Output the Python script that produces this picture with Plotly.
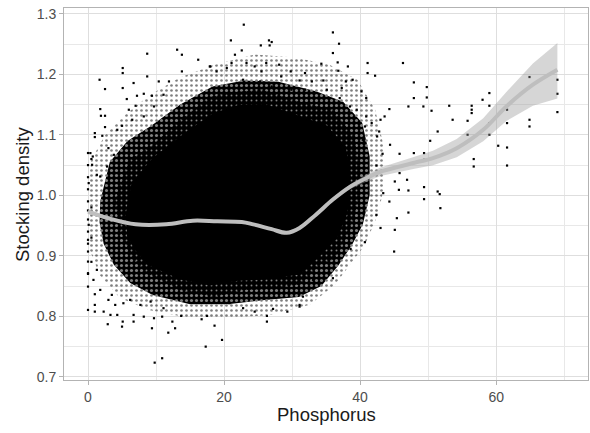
import plotly.graph_objects as go

# ---- individual observations (phosphorus, stocking density) in the sparse outer fringe
pt_x = [
    8.7, 13.1, 13.8, 16.2, 5.1, 5.1, 1.7, 2.5, 5.1, 6.7, 8.7, 10.4, 11.9, 13.8, 18.0,
    5.7, 7.2, 8.2, 9.4, 11.1, 1.8, 1.9, 2.5, 2.5, 1.0, 1.0, 2.1, 0.35, 0.7, 0.6, 0.1,
    1.3, 3.0, 4.3, 5.0, 6.0, 7.0, 6.5, 8.2, 9.7, 3.8, 2.8, 1.8,
    22.9, 21.0, 22.6, 25.4, 26.6, 27.0, 26.7, 36.0, 36.9, 36.0, 36.7, 36.8, 34.3, 38.2,
    41.1, 21.6, 21.1, 23.3, 24.5, 26.2, 28.1, 29.8, 31.9, 18.9, 17.9, 20.4, 25.5, 28.4,
    31.1, 32.9, 34.6, 37.9, 38.9, 40.2, 40.9, 39.5, 40.7, 40.4, 29.9, 31.9, 35.1, 37.3,
    37.0, 38.5, 22.8, 25.3, 27.0,
    41.1, 42.2, 46.3, 47.9, 49.8, 47.9, 49.8, 47.1, 49.3, 50.5, 53.1, 56.4, 56.4, 56.4,
    58.0, 59.0, 59.0, 53.6, 55.8, 55.8, 59.0, 59.0, 61.6, 61.6, 64.9, 64.9, 64.9, 60.3,
    61.6, 61.6, 56.7, 56.7, 69.0, 69.0, 69.0, 50.3, 51.4, 47.9, 49.4, 49.4, 45.8, 44.4,
    43.3, 42.4, 45.8, 45.1, 46.9, 45.7, 47.1, 49.4, 49.4, 51.4, 51.7, 51.8, 47.1, 45.4,
    45.1, 44.3, 43.4, 42.5, 43.0, 43.6, 44.3, 41.7, 40.9, 42.8,
    45.0, 43.0, 42.4, 40.7, 38.6, 36.0, 34.6, 33.1, 31.6, 31.1,
    0.0, 1.0, 1.0, 1.0, 2.3, 2.9, 3.3, 5.0, 5.1, 6.7, 9.4, 9.8, 10.9, 11.8, 12.8, 12.4,
    13.7, 16.7, 17.3, 17.5, 4.3, 4.0, 6.7, 8.2, 9.7, 10.9, 0.0, 0.0, 0.0, 0.0, 0.0, 0.1,
    0.8, 1.3, 1.8, 3.0, 5.2, 3.5, 6.2, 7.7, 9.2, 11.1,
    18.6, 19.7, 26.3, 26.3, 29.3, 31.1, 24.5, 22.8, 20.8, 27.2,
    0.0, 0.0, 0.0, 0.0, 0.0, 0.0, 0.0, 0.0, 0.0, 0.0, 0.5, 0.5, 0.5, 0.5,
]
pt_y = [
    1.2343, 1.2409, 1.2326, 1.2243, 1.2106, 1.2023, 1.1912, 1.1758, 1.1775, 1.1858,
    1.1967, 1.1884, 1.1884, 1.2050, 1.2132, 1.1593, 1.1647, 1.1680, 1.1647, 1.1664,
    1.1427, 1.1316, 1.1316, 1.1129, 1.1030, 1.0964, 1.0985, 1.0699, 1.0642, 1.0505,
    1.0202, 1.0339, 1.0781, 1.1084, 1.1150, 1.1416, 1.1482, 1.1250, 1.1305, 1.1470,
    1.0670, 1.0477, 1.0311,
    1.2823, 1.2563, 1.2397, 1.2480, 1.2563, 1.2536, 1.2480, 1.2695, 1.2508, 1.2354,
    1.2199, 1.2061, 1.2177, 1.2132, 1.2189, 1.2326, 1.2189, 1.2189, 1.2132, 1.2189,
    1.2161, 1.2050, 1.2023, 1.2050, 1.2132, 1.2106, 1.2050, 1.1967, 1.1900, 1.1884,
    1.1900, 1.1884, 1.1912, 1.1719, 1.1609, 1.1416, 1.1139, 1.0919, 1.1747, 1.1747,
    1.1747, 1.1775, 1.1609, 1.1470, 1.1912, 1.1884, 1.1801,
    1.2023, 1.1979, 1.2189, 1.1868, 1.1791, 1.1609, 1.1619, 1.1470, 1.1470, 1.1399,
    1.1482, 1.1482, 1.1416, 1.1361, 1.1581, 1.1692, 1.1482, 1.1250, 1.1233, 1.1002,
    1.1002, 1.1195, 1.1416, 1.1195, 1.1957, 1.1250, 1.1139, 1.0820, 1.0791, 1.0493,
    1.0600, 1.0477, 1.1912, 1.1680, 1.1377, 1.0902, 1.1056, 1.0699, 1.0699, 1.0588,
    1.0687, 1.0836, 1.0687, 1.0493, 1.0368, 1.0229, 1.0257, 1.0091, 1.0080, 1.0136,
    0.9937, 1.0063, 1.0020, 0.9788, 0.9715, 0.9622, 0.9429, 0.9897, 1.0036, 1.0974,
    1.1250, 1.1305, 1.1427, 1.1195, 1.1305, 1.1056,
    0.9070, 0.9460, 0.9677, 0.9225, 0.9114, 0.8629, 0.8712, 0.8601, 0.8324, 0.8187,
    0.8104, 0.8076, 0.8187, 0.8364, 0.8076, 0.7868, 0.8022, 0.7828, 0.7911, 0.7911,
    0.7801, 0.7232, 0.7305, 0.7728, 0.7801, 0.7911, 0.8005, 0.7950, 0.7497, 0.8005,
    0.8022, 0.8187, 0.8022, 0.7993, 0.7967, 0.7993, 0.8490, 0.8712, 0.8904, 0.9070,
    0.9264, 0.9512, 0.8601, 0.8767, 0.8435, 0.8270, 0.8215, 0.8353, 0.8270, 0.8187,
    0.8242, 0.8133,
    0.7844, 0.7608, 0.8005, 0.7911, 0.8076, 0.8159, 0.8076, 0.8133, 0.8215, 0.8121,
    1.0700, 1.0500, 1.0300, 1.0100, 0.9900, 0.9750, 0.9600, 0.9400, 0.9200, 0.8700,
    1.0600, 0.9800, 0.9300, 0.8900,
]

# ---- outlines of the point cloud, from the sparse outer halo inwards to the saturated core
halo_x = [0, 0.5, 2.5, 5.4, 9.1, 13.5, 18.6, 24.5, 30.4, 35.5, 39.6, 42.2, 43.6, 43.6,
          42.6, 40.7, 38.5, 36.3, 32.6, 26.7, 20.8, 15.0, 9.1, 4.7, 1.7, 0.25, 0]
halo_y = [1.017, 1.059, 1.100, 1.133, 1.166, 1.195, 1.216, 1.233, 1.228, 1.216, 1.191,
          1.142, 1.075, 1.017, 0.968, 0.918, 0.885, 0.852, 0.819, 0.802, 0.797, 0.797,
          0.810, 0.830, 0.868, 0.910, 0.960]

ring_x = [1.8, 3.2, 5.8, 9.3, 13.5, 18.3, 23.0, 28.0, 33.5, 37.5, 40.3, 41.4, 41.4, 40.4,
          38.8, 36.8, 34.3, 31.0, 26.0, 20.5, 15.0, 9.5, 6.2, 3.8, 2.3, 1.7]
ring_y = [0.990, 1.055, 1.090, 1.115, 1.150, 1.180, 1.190, 1.188, 1.172, 1.155, 1.120,
          1.065, 1.000, 0.952, 0.918, 0.884, 0.850, 0.832, 0.827, 0.820, 0.820, 0.835,
          0.855, 0.885, 0.920, 0.955]

band_x = [3.9, 6.1, 9.1, 13.6, 18.0, 21.0, 25.5, 31.5, 35.9, 39.2, 40.0, 39.5, 38.5,
          36.3, 34.0, 31.1, 26.0, 22.8, 18.5, 13.6, 8.6, 6.3, 4.7]
band_y = [0.990, 1.059, 1.080, 1.125, 1.163, 1.170, 1.175, 1.153, 1.142, 1.097, 1.026,
          0.980, 0.943, 0.895, 0.885, 0.852, 0.845, 0.843, 0.832, 0.843, 0.871, 0.900,
          0.943]

core_x = [5.5, 6.5, 9.5, 14.0, 18.5, 22.0, 26.0, 31.0, 35.0, 37.8, 38.5, 38.0, 36.5,
          34.0, 31.0, 26.0, 22.0, 18.0, 13.6, 9.0, 7.0, 5.8]
core_y = [0.960, 1.020, 1.060, 1.100, 1.135, 1.148, 1.150, 1.130, 1.115, 1.080, 1.030,
          0.970, 0.930, 0.900, 0.870, 0.862, 0.860, 0.852, 0.862, 0.885, 0.910, 0.935]

# ---- smoothed trend with its confidence band
smooth_x = [0, 3, 7, 11.5, 15.4, 19, 22.6, 24.3, 27, 29.2, 31.1, 33.5, 36, 38.5, 40.9,
            43, 45.8, 48, 50.7, 54.2, 58.1, 61.5, 65.4, 69]
smooth_y = [0.973, 0.962, 0.952, 0.952, 0.958, 0.957, 0.956, 0.952, 0.944, 0.938, 0.946,
            0.968, 0.993, 1.014, 1.0285, 1.039, 1.0477, 1.054, 1.0616, 1.078, 1.1084,
            1.147, 1.183, 1.2078]
smooth_lo = [0.969, 0.959, 0.950, 0.950, 0.956, 0.955, 0.954, 0.950, 0.942, 0.936, 0.944,
             0.965, 0.990, 1.010, 1.0225, 1.032, 1.0387, 1.044, 1.0496, 1.063, 1.0894,
             1.123, 1.148, 1.160]
smooth_hi = [0.977, 0.965, 0.954, 0.954, 0.960, 0.959, 0.958, 0.954, 0.946, 0.940, 0.948,
             0.971, 0.996, 1.018, 1.0345, 1.046, 1.0567, 1.064, 1.0736, 1.093, 1.1274,
             1.171, 1.218, 1.252]

x_ticks = [0, 20, 40, 60]
y_ticks = [0.7, 0.8, 0.9, 1.0, 1.1, 1.2, 1.3]
y_tick_text = ["0.7", "0.8", "0.9", "1.0", "1.1", "1.2", "1.3"]

fig = go.Figure()

clear = "rgba(0,0,0,0)"


def speck_area(xs, ys, size, solidity, fg, bg):
    """A closed outline filled with a stipple of specks."""
    return go.Scatter(
        x=xs, y=ys, mode="lines", fill="toself", line=dict(width=0, color=clear),
        fillcolor=bg,
        fillpattern=dict(shape=".", size=size, solidity=solidity, fgcolor=fg, bgcolor=bg),
        hoverinfo="skip", showlegend=False)


fig.add_trace(speck_area(halo_x, halo_y, 5, 0.22, "black", clear))
fig.add_trace(speck_area(ring_x, ring_y, 5, 0.3, "white", "black"))
fig.add_trace(speck_area(band_x, band_y, 5, 0.12, "white", "black"))
fig.add_trace(go.Scatter(
    x=core_x, y=core_y, mode="lines", fill="toself", line=dict(width=1.5, color="black"),
    fillcolor="black", hoverinfo="skip", showlegend=False))
fig.add_trace(go.Scatter(
    x=pt_x, y=pt_y, mode="markers",
    marker=dict(symbol="square", size=2.2, color="black", line=dict(width=0)),
    showlegend=False))

# confidence ribbon
fig.add_trace(go.Scatter(
    x=smooth_x + smooth_x[::-1], y=smooth_hi + smooth_lo[::-1], mode="lines",
    fill="toself", fillcolor="rgba(153,153,153,0.4)", line=dict(width=0, color=clear),
    hoverinfo="skip", showlegend=False))
fig.add_trace(go.Scatter(
    x=smooth_x, y=smooth_y, mode="lines", line=dict(color="#BEBEBE", width=4, shape="spline"),
    showlegend=False))

grid_major = "#DEDEDE"
grid_minor = "#E8E8E8"
tick_font = dict(family="Liberation Sans, Arial, sans-serif", size=14, color="#4D4D4D")

fig.update_xaxes(
    range=[-3.53, 73.5], tickvals=x_ticks, ticktext=[str(v) for v in x_ticks],
    showgrid=True, gridcolor=grid_major, gridwidth=1, zeroline=False,
    minor=dict(tickvals=[10, 30, 50, 70], showgrid=True, gridcolor=grid_minor,
               gridwidth=0.6, ticks=""),
    ticks="outside", ticklen=4, tickcolor="#B3B3B3", tickwidth=1,
    showline=True, mirror=True, linecolor="#B3B3B3", linewidth=1,
    tickfont=tick_font, fixedrange=True)
fig.update_yaxes(
    range=[0.6945, 1.3099], tickvals=y_ticks, ticktext=y_tick_text,
    showgrid=True, gridcolor=grid_major, gridwidth=1, zeroline=False,
    minor=dict(tickvals=[0.75, 0.85, 0.95, 1.05, 1.15, 1.25], showgrid=True,
               gridcolor=grid_minor, gridwidth=0.6, ticks=""),
    ticks="outside", ticklen=4, tickcolor="#B3B3B3", tickwidth=1,
    showline=True, mirror=True, linecolor="#B3B3B3", linewidth=1,
    tickfont=tick_font, fixedrange=True)

title_font = dict(family="Liberation Sans, Arial, sans-serif", size=18.5, color="#1A1A1A")
fig.update_layout(
    width=590, height=433,
    margin=dict(l=64, r=2, t=8, b=53),
    paper_bgcolor="white", plot_bgcolor="white",
    showlegend=False,
    annotations=[
        dict(text="Phosphorus", xref="paper", yref="paper", x=0.5, y=-0.0914,
             xanchor="center", yanchor="middle", showarrow=False, font=title_font),
        dict(text="Stocking density", xref="paper", yref="paper", x=-0.0802, y=0.5,
             xanchor="center", yanchor="middle", showarrow=False, textangle=-90,
             font=title_font),
    ],
)

fig.write_html("out.html", config={"displayModeBar": False})
